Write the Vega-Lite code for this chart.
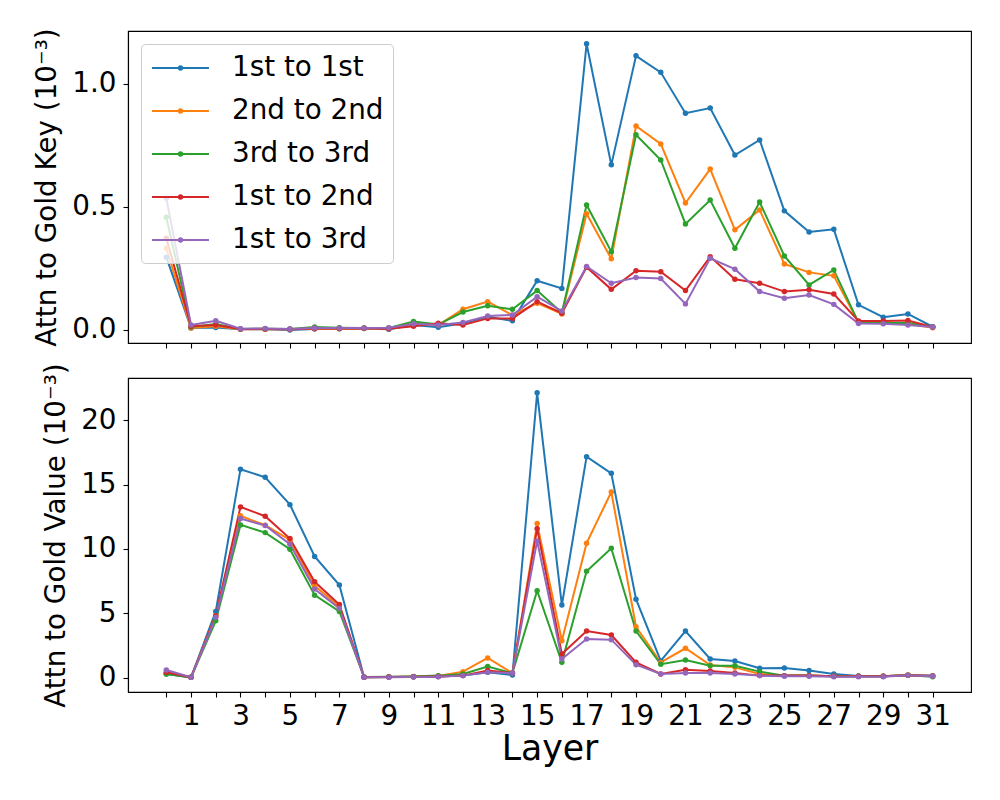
{
"$schema": "https://vega.github.io/schema/vega-lite/v6.json",
"padding": {"left": 33, "top": 27, "right": 28, "bottom": 10},
"spacing": 12,
"background": "white",
"config": {
  "font": "DejaVu Sans",
  "view": {"stroke": "black", "strokeWidth": 1.1},
  "axis": {"grid": false, "labelFont": "DejaVu Sans", "labelFontSize": 27.8, "labelColor": "black", "titleFont": "DejaVu Sans", "titleFontSize": 27.8, "titleFontWeight": "normal", "titleColor": "black", "tickColor": "black", "tickSize": 5, "tickWidth": 1.1, "domainColor": "black", "domainWidth": 1.1, "labelPadding": 7, "titlePadding": 10, "labelOverlap": false, "labelFlush": false}
},
"data": {"values": [
{"layer":0,"series":"1st to 1st","key":0.296,"value":0.31},{"layer":1,"series":"1st to 1st","key":0.008,"value":0.05},{"layer":2,"series":"1st to 1st","key":0.010,"value":5.16},{"layer":3,"series":"1st to 1st","key":0.003,"value":16.18},{"layer":4,"series":"1st to 1st","key":0.003,"value":15.56},{"layer":5,"series":"1st to 1st","key":0.000,"value":13.44},{"layer":6,"series":"1st to 1st","key":0.004,"value":9.42},{"layer":7,"series":"1st to 1st","key":0.005,"value":7.20},{"layer":8,"series":"1st to 1st","key":0.006,"value":0.05},{"layer":9,"series":"1st to 1st","key":0.003,"value":0.07},{"layer":10,"series":"1st to 1st","key":0.020,"value":0.10},{"layer":11,"series":"1st to 1st","key":0.011,"value":0.12},{"layer":12,"series":"1st to 1st","key":0.027,"value":0.18},{"layer":13,"series":"1st to 1st","key":0.054,"value":0.44},{"layer":14,"series":"1st to 1st","key":0.037,"value":0.23},{"layer":15,"series":"1st to 1st","key":0.200,"value":22.11},{"layer":16,"series":"1st to 1st","key":0.169,"value":5.65},{"layer":17,"series":"1st to 1st","key":1.163,"value":17.16},{"layer":18,"series":"1st to 1st","key":0.671,"value":15.87},{"layer":19,"series":"1st to 1st","key":1.114,"value":6.11},{"layer":20,"series":"1st to 1st","key":1.047,"value":1.32},{"layer":21,"series":"1st to 1st","key":0.881,"value":3.64},{"layer":22,"series":"1st to 1st","key":0.902,"value":1.47},{"layer":23,"series":"1st to 1st","key":0.711,"value":1.32},{"layer":24,"series":"1st to 1st","key":0.772,"value":0.75},{"layer":25,"series":"1st to 1st","key":0.484,"value":0.77},{"layer":26,"series":"1st to 1st","key":0.398,"value":0.57},{"layer":27,"series":"1st to 1st","key":0.409,"value":0.31},{"layer":28,"series":"1st to 1st","key":0.102,"value":0.15},{"layer":29,"series":"1st to 1st","key":0.052,"value":0.13},{"layer":30,"series":"1st to 1st","key":0.065,"value":0.23},{"layer":31,"series":"1st to 1st","key":0.013,"value":0.18},
{"layer":0,"series":"2nd to 2nd","key":0.332,"value":0.38},{"layer":1,"series":"2nd to 2nd","key":0.008,"value":0.05},{"layer":2,"series":"2nd to 2nd","key":0.015,"value":4.83},{"layer":3,"series":"2nd to 2nd","key":0.003,"value":12.57},{"layer":4,"series":"2nd to 2nd","key":0.003,"value":11.84},{"layer":5,"series":"2nd to 2nd","key":0.003,"value":10.70},{"layer":6,"series":"2nd to 2nd","key":0.005,"value":7.15},{"layer":7,"series":"2nd to 2nd","key":0.005,"value":5.55},{"layer":8,"series":"2nd to 2nd","key":0.006,"value":0.05},{"layer":9,"series":"2nd to 2nd","key":0.006,"value":0.07},{"layer":10,"series":"2nd to 2nd","key":0.025,"value":0.10},{"layer":11,"series":"2nd to 2nd","key":0.020,"value":0.15},{"layer":12,"series":"2nd to 2nd","key":0.084,"value":0.49},{"layer":13,"series":"2nd to 2nd","key":0.115,"value":1.55},{"layer":14,"series":"2nd to 2nd","key":0.060,"value":0.38},{"layer":15,"series":"2nd to 2nd","key":0.109,"value":11.97},{"layer":16,"series":"2nd to 2nd","key":0.065,"value":2.89},{"layer":17,"series":"2nd to 2nd","key":0.472,"value":10.45},{"layer":18,"series":"2nd to 2nd","key":0.289,"value":14.42},{"layer":19,"series":"2nd to 2nd","key":0.829,"value":3.97},{"layer":20,"series":"2nd to 2nd","key":0.756,"value":1.20},{"layer":21,"series":"2nd to 2nd","key":0.516,"value":2.30},{"layer":22,"series":"2nd to 2nd","key":0.654,"value":1.00},{"layer":23,"series":"2nd to 2nd","key":0.407,"value":0.82},{"layer":24,"series":"2nd to 2nd","key":0.488,"value":0.31},{"layer":25,"series":"2nd to 2nd","key":0.268,"value":0.18},{"layer":26,"series":"2nd to 2nd","key":0.234,"value":0.18},{"layer":27,"series":"2nd to 2nd","key":0.220,"value":0.13},{"layer":28,"series":"2nd to 2nd","key":0.030,"value":0.13},{"layer":29,"series":"2nd to 2nd","key":0.028,"value":0.13},{"layer":30,"series":"2nd to 2nd","key":0.025,"value":0.23},{"layer":31,"series":"2nd to 2nd","key":0.009,"value":0.15},
{"layer":0,"series":"3rd to 3rd","key":0.458,"value":0.31},{"layer":1,"series":"3rd to 3rd","key":0.012,"value":0.05},{"layer":2,"series":"3rd to 3rd","key":0.024,"value":4.43},{"layer":3,"series":"3rd to 3rd","key":0.004,"value":11.87},{"layer":4,"series":"3rd to 3rd","key":0.005,"value":11.27},{"layer":5,"series":"3rd to 3rd","key":0.004,"value":9.98},{"layer":6,"series":"3rd to 3rd","key":0.012,"value":6.42},{"layer":7,"series":"3rd to 3rd","key":0.009,"value":5.16},{"layer":8,"series":"3rd to 3rd","key":0.008,"value":0.07},{"layer":9,"series":"3rd to 3rd","key":0.008,"value":0.10},{"layer":10,"series":"3rd to 3rd","key":0.034,"value":0.12},{"layer":11,"series":"3rd to 3rd","key":0.022,"value":0.18},{"layer":12,"series":"3rd to 3rd","key":0.073,"value":0.31},{"layer":13,"series":"3rd to 3rd","key":0.098,"value":0.88},{"layer":14,"series":"3rd to 3rd","key":0.084,"value":0.38},{"layer":15,"series":"3rd to 3rd","key":0.160,"value":6.76},{"layer":16,"series":"3rd to 3rd","key":0.070,"value":1.21},{"layer":17,"series":"3rd to 3rd","key":0.508,"value":8.28},{"layer":18,"series":"3rd to 3rd","key":0.318,"value":10.06},{"layer":19,"series":"3rd to 3rd","key":0.793,"value":3.64},{"layer":20,"series":"3rd to 3rd","key":0.691,"value":1.06},{"layer":21,"series":"3rd to 3rd","key":0.431,"value":1.39},{"layer":22,"series":"3rd to 3rd","key":0.528,"value":0.95},{"layer":23,"series":"3rd to 3rd","key":0.332,"value":0.95},{"layer":24,"series":"3rd to 3rd","key":0.520,"value":0.49},{"layer":25,"series":"3rd to 3rd","key":0.301,"value":0.18},{"layer":26,"series":"3rd to 3rd","key":0.183,"value":0.18},{"layer":27,"series":"3rd to 3rd","key":0.244,"value":0.13},{"layer":28,"series":"3rd to 3rd","key":0.030,"value":0.13},{"layer":29,"series":"3rd to 3rd","key":0.028,"value":0.13},{"layer":30,"series":"3rd to 3rd","key":0.028,"value":0.20},{"layer":31,"series":"3rd to 3rd","key":0.012,"value":0.10},
{"layer":0,"series":"1st to 2nd","key":0.373,"value":0.44},{"layer":1,"series":"1st to 2nd","key":0.015,"value":0.05},{"layer":2,"series":"1st to 2nd","key":0.020,"value":4.83},{"layer":3,"series":"1st to 2nd","key":0.004,"value":13.26},{"layer":4,"series":"1st to 2nd","key":0.004,"value":12.54},{"layer":5,"series":"1st to 2nd","key":0.003,"value":10.81},{"layer":6,"series":"1st to 2nd","key":0.006,"value":7.46},{"layer":7,"series":"1st to 2nd","key":0.006,"value":5.70},{"layer":8,"series":"1st to 2nd","key":0.007,"value":0.05},{"layer":9,"series":"1st to 2nd","key":0.005,"value":0.07},{"layer":10,"series":"1st to 2nd","key":0.015,"value":0.10},{"layer":11,"series":"1st to 2nd","key":0.027,"value":0.12},{"layer":12,"series":"1st to 2nd","key":0.020,"value":0.18},{"layer":13,"series":"1st to 2nd","key":0.047,"value":0.57},{"layer":14,"series":"1st to 2nd","key":0.047,"value":0.38},{"layer":15,"series":"1st to 2nd","key":0.115,"value":11.58},{"layer":16,"series":"1st to 2nd","key":0.068,"value":1.86},{"layer":17,"series":"1st to 2nd","key":0.255,"value":3.64},{"layer":18,"series":"1st to 2nd","key":0.165,"value":3.33},{"layer":19,"series":"1st to 2nd","key":0.241,"value":1.21},{"layer":20,"series":"1st to 2nd","key":0.237,"value":0.31},{"layer":21,"series":"1st to 2nd","key":0.160,"value":0.64},{"layer":22,"series":"1st to 2nd","key":0.298,"value":0.54},{"layer":23,"series":"1st to 2nd","key":0.206,"value":0.39},{"layer":24,"series":"1st to 2nd","key":0.190,"value":0.18},{"layer":25,"series":"1st to 2nd","key":0.156,"value":0.18},{"layer":26,"series":"1st to 2nd","key":0.163,"value":0.18},{"layer":27,"series":"1st to 2nd","key":0.146,"value":0.13},{"layer":28,"series":"1st to 2nd","key":0.036,"value":0.13},{"layer":29,"series":"1st to 2nd","key":0.036,"value":0.13},{"layer":30,"series":"1st to 2nd","key":0.038,"value":0.20},{"layer":31,"series":"1st to 2nd","key":0.012,"value":0.15},
{"layer":0,"series":"1st to 3rd","key":0.535,"value":0.62},{"layer":1,"series":"1st to 3rd","key":0.020,"value":0.05},{"layer":2,"series":"1st to 3rd","key":0.037,"value":4.70},{"layer":3,"series":"1st to 3rd","key":0.005,"value":12.36},{"layer":4,"series":"1st to 3rd","key":0.006,"value":11.82},{"layer":5,"series":"1st to 3rd","key":0.004,"value":10.37},{"layer":6,"series":"1st to 3rd","key":0.008,"value":6.89},{"layer":7,"series":"1st to 3rd","key":0.008,"value":5.39},{"layer":8,"series":"1st to 3rd","key":0.008,"value":0.05},{"layer":9,"series":"1st to 3rd","key":0.009,"value":0.05},{"layer":10,"series":"1st to 3rd","key":0.025,"value":0.08},{"layer":11,"series":"1st to 3rd","key":0.020,"value":0.10},{"layer":12,"series":"1st to 3rd","key":0.030,"value":0.18},{"layer":13,"series":"1st to 3rd","key":0.057,"value":0.44},{"layer":14,"series":"1st to 3rd","key":0.061,"value":0.38},{"layer":15,"series":"1st to 3rd","key":0.135,"value":10.63},{"layer":16,"series":"1st to 3rd","key":0.077,"value":1.47},{"layer":17,"series":"1st to 3rd","key":0.258,"value":3.02},{"layer":18,"series":"1st to 3rd","key":0.190,"value":2.97},{"layer":19,"series":"1st to 3rd","key":0.213,"value":1.03},{"layer":20,"series":"1st to 3rd","key":0.209,"value":0.31},{"layer":21,"series":"1st to 3rd","key":0.106,"value":0.39},{"layer":22,"series":"1st to 3rd","key":0.291,"value":0.39},{"layer":23,"series":"1st to 3rd","key":0.247,"value":0.31},{"layer":24,"series":"1st to 3rd","key":0.156,"value":0.18},{"layer":25,"series":"1st to 3rd","key":0.129,"value":0.13},{"layer":26,"series":"1st to 3rd","key":0.142,"value":0.13},{"layer":27,"series":"1st to 3rd","key":0.104,"value":0.10},{"layer":28,"series":"1st to 3rd","key":0.026,"value":0.10},{"layer":29,"series":"1st to 3rd","key":0.025,"value":0.10},{"layer":30,"series":"1st to 3rd","key":0.020,"value":0.20},{"layer":31,"series":"1st to 3rd","key":0.012,"value":0.13}
]},
"resolve": {"scale": {"color": "independent"}, "legend": {"color": "independent"}},
"vconcat": [
  {
    "width": 843, "height": 312,
    "mark": {"type": "line", "strokeWidth": 2, "point": {"filled": true, "size": 30}},
    "encoding": {
      "x": {"field": "layer", "type": "quantitative", "scale": {"domain": [-1.55, 32.55], "nice": false, "zero": false},
            "axis": {"values": [0,1,2,3,4,5,6,7,8,9,10,11,12,13,14,15,16,17,18,19,20,21,22,23,24,25,26,27,28,29,30,31], "labels": false, "title": null}},
      "y": {"field": "key", "type": "quantitative", "scale": {"domain": [-0.053, 1.215], "nice": false, "zero": false},
            "axis": {"values": [0, 0.5, 1.0], "format": ".1f", "title": "Attn to Gold Key (10⁻³)"}},
      "color": {"field": "series", "type": "nominal",
        "scale": {"domain": ["1st to 1st", "2nd to 2nd", "3rd to 3rd", "1st to 2nd", "1st to 3rd"], "range": ["#1f77b4", "#ff7f0e", "#2ca02c", "#d62728", "#9467bd"]},
        "legend": {"orient": "top-left", "offset": 13, "title": null,
          "symbolType": "M-0.93,0H3.14M1.227,0A0.12,0.12,0,1,1,0.987,0A0.12,0.12,0,1,1,1.227,0",
          "symbolSize": 784, "symbolStrokeWidth": 2,
          "labelFont": "DejaVu Sans", "labelFontSize": 27.8, "labelColor": "black", "labelLimit": 400,
          "labelOffset": 52, "rowPadding": 14, "padding": 9,
          "fillColor": "rgba(255,255,255,0.8)", "strokeColor": "#cccccc", "cornerRadius": 4}},
      "order": {"field": "layer", "type": "quantitative"}
    }
  },
  {
    "width": 843, "height": 314,
    "mark": {"type": "line", "strokeWidth": 2, "point": {"filled": true, "size": 30}},
    "encoding": {
      "x": {"field": "layer", "type": "quantitative", "scale": {"domain": [-1.55, 32.55], "nice": false, "zero": false},
            "axis": {"values": [0,1,2,3,4,5,6,7,8,9,10,11,12,13,14,15,16,17,18,19,20,21,22,23,24,25,26,27,28,29,30,31], "labelExpr": "datum.value % 2 == 1 ? datum.label : ''", "labelAngle": 0, "labelPadding": 5, "title": "Layer", "titleFontSize": 34.7, "titlePadding": 3}},
      "y": {"field": "value", "type": "quantitative", "scale": {"domain": [-1.09, 23.26], "nice": false, "zero": false},
            "axis": {"values": [0, 5, 10, 15, 20], "format": "d", "title": "Attn to Gold Value (10⁻³)"}},
      "color": {"field": "series", "type": "nominal",
        "scale": {"domain": ["1st to 1st", "2nd to 2nd", "3rd to 3rd", "1st to 2nd", "1st to 3rd"], "range": ["#1f77b4", "#ff7f0e", "#2ca02c", "#d62728", "#9467bd"]},
        "legend": null},
      "order": {"field": "layer", "type": "quantitative"}
    }
  }
]
}
